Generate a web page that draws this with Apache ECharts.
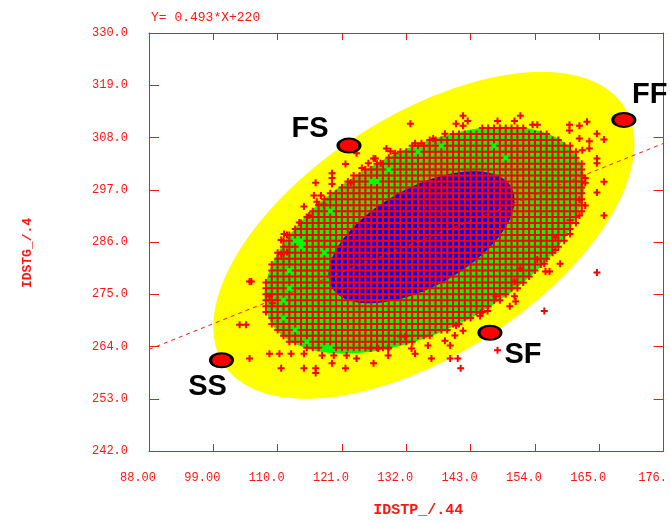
<!DOCTYPE html>
<html>
<head>
<meta charset="utf-8">
<script src="https://cdn.jsdelivr.net/npm/echarts@6/dist/echarts.min.js"></script>
<style>
  html, body { margin: 0; padding: 0; background: #fff; }
  #chart { width: 670px; height: 523px; }
</style>
</head>
<body>
<div id="chart"></div>
<script>
// Regression of IDSTG_/.4 on IDSTP_/.44
const fitSlope = 0.493;
const fitIntercept = 220;

// Axis ticks
const xTickLabels = ['88.00', '99.00', '110.0', '121.0', '132.0', '143.0', '154.0', '165.0', '176.'];
const yTickLabels = ['242.0', '253.0', '264.0', '275.0', '286.0', '297.0', '308.0', '319.0', '330.0'];

// Density bands (outer, middle, inner): centre, spread along each axis, correlation
const bandCenterX = [135.0, 135.1, 134.6];
const bandCenterY = [287.4, 286.4, 287.0];
const bandSpreadX = [36.0, 27.35, 15.9];
const bandSpreadY = [34.4, 23.9, 13.9];
const bandCorr = [0.56, 0.50, 0.56];

// Dense core of observations: each row is [y, [xFrom, xTo], ...] on a 1-unit x step
const coreRows = [
  [263.75, [115, 117], [120, 129]],
  [265.00, [112, 114], [116, 133]],
  [266.25, [111, 136]],
  [267.50, [110, 112], [114, 139]],
  [268.75, [109, 141]],
  [270.00, [109, 110], [112, 143]],
  [271.25, [108, 145]],
  [272.50, [108, 146]],
  [273.75, [108, 110], [112, 148]],
  [275.00, [108, 149]],
  [276.25, [108, 111], [113, 151]],
  [277.50, [108, 152]],
  [278.75, [109, 153]],
  [280.00, [109, 111], [113, 154]],
  [281.25, [109, 155]],
  [282.50, [110, 156]],
  [283.75, [110, 117], [119, 157]],
  [285.00, [111, 113], [115, 158]],
  [286.25, [111, 112], [115, 159]],
  [287.50, [112, 159]],
  [288.75, [113, 160]],
  [290.00, [114, 161]],
  [291.25, [115, 161]],
  [292.50, [116, 118], [120, 162]],
  [293.75, [117, 162]],
  [295.00, [118, 162]],
  [296.25, [119, 162]],
  [297.50, [121, 162]],
  [298.75, [122, 125], [128, 162]],
  [300.00, [123, 162]],
  [301.25, [125, 128], [130, 162]],
  [302.50, [127, 162]],
  [303.75, [129, 148], [150, 161]],
  [305.00, [131, 133], [135, 161]],
  [306.25, [133, 137], [139, 146], [148, 160]],
  [307.50, [136, 158]],
  [308.75, [140, 156]],
  [310.00, [145, 152]]
];

// Scattered observations outside the dense core
const sparseX = [
  123.5, 121.6, 119.3, 119.3, 119.3, 116.5, 117.4, 116.2, 116.7, 117.9, 114.5, 115.4, 113.7, 111.1, 110.6, 111.6, 110.6, 111.6, 105.5, 108.6, 109.1,
  122.5, 124.4, 125.5, 126.7, 127.6, 129.3,
  132.7, 133.5, 134.6, 136.6, 138.6, 140.5, 141.7, 142.5, 147.6, 150.5, 151.5, 153.6, 154.4, 141.7, 128.6, 130.1, 126.4,
  159.9, 159.9, 161.6, 162.9, 164.6, 165.8, 163.3, 161.6, 162.1, 163.3, 164.6, 164.6, 162.6, 162.6, 165.8, 164.6, 161.6, 162.6, 161.6, 165.8, 160.0, 160.0, 157.5, 157.5, 154.4, 155.6, 158.3, 156.5, 164.6, 151.5,
  147.3, 149.7, 150.5, 150.7, 150.5, 155.8, 155.6, 145.9, 144.7, 144.6, 141.7, 140.5, 140.3, 138.6, 139.5, 139.5, 140.8, 141.3, 147.6, 136.3, 135.7, 133.5, 132.9, 131.0, 131.8, 128.9, 127.2, 125.9, 128.9, 126.4, 123.5, 121.6, 121.8, 119.6, 119.3, 117.6, 116.5, 116.5, 114.5, 110.6, 114.5, 112.3, 110.3, 108.6, 105.2, 103.5, 104.6, 105.2
];
const sparseY = [
  304.7, 302.4, 300.5, 299.5, 298.2, 298.5, 295.8, 295.8, 294.5, 293.9, 293.5, 291.6, 290.1, 287.7, 286.4, 287.5, 283.5, 283.9, 277.7, 274.6, 273.1,
  298.5, 301.6, 302.6, 303.6, 302.6, 305.1,
  310.9, 306.8, 306.8, 307.8, 308.8, 310.9, 312.6, 311.5, 311.5, 311.5, 312.6, 310.7, 310.7, 310.5, 305.7, 304.7, 303.6,
  310.7, 309.5, 310.5, 311.3, 308.8, 307.6, 307.2, 307.8, 305.3, 305.7, 303.6, 302.6, 299.5, 298.5, 298.7, 296.4, 294.9, 293.7, 291.6, 291.6, 290.6, 287.7, 287.0, 284.3, 282.3, 281.4, 281.4, 279.8, 279.6, 280.4,
  274.6, 272.5, 274.6, 273.5, 277.7, 279.8, 271.5, 271.5, 271.1, 270.4, 267.3, 268.4, 266.3, 265.2, 264.2, 261.5, 261.5, 259.4, 263.2, 261.5, 264.2, 262.5, 263.6, 266.1, 266.1, 263.6, 263.6, 263.6, 262.1, 260.5, 261.5, 259.4, 262.1, 262.1, 260.5, 262.1, 259.4, 258.4, 259.4, 259.4, 262.5, 262.5, 262.5, 262.5, 261.5, 268.6, 268.6, 277.7
];

// Labelled corner cases
const cornerNames = ['FS', 'FF', 'SS', 'SF'];
const cornerX = [122.2, 169.2, 100.4, 146.3];
const cornerY = [306.3, 311.7, 261.1, 266.9];

const xMin = 88, xMax = 176, xStep = 11;
const yMin = 242, yMax = 330, yStep = 11;

const RED = '#ff1414';
const bandColors = ['#ffff00', '#00ff00', '#0000ff'];
const monoFont = "'Liberation Mono', 'DejaVu Sans Mono', monospace";

// expand core rows into individual observations
const obs = [];
coreRows.forEach(row => {
  const y = row[0];
  for (let r = 1; r < row.length; r++) {
    for (let x = row[r][0]; x <= row[r][1]; x++) obs.push([x, y]);
  }
});
sparseX.forEach((x, i) => obs.push([x, sparseY[i]]));

const bands = bandCenterX.map((cx, i) => [cx, bandCenterY[i], bandSpreadX[i], bandSpreadY[i], bandCorr[i]]);
const corners = cornerNames.map((n, i) => ({ name: n, value: [cornerX[i], cornerY[i]] }));
const fitLine = [[xMin, fitSlope * xMin + fitIntercept], [xMax, fitSlope * xMax + fitIntercept]];

const cornerLabelOffset = { FS: [-39, -17], FF: [26, -25], SS: [-14, 27], SF: [33, 22] };

const chart = echarts.init(document.getElementById('chart'));
chart.setOption({
  animation: false,
  backgroundColor: '#ffffff',
  title: {
    text: 'Y= ' + fitSlope + '*X+' + fitIntercept,
    left: 146, top: 6,
    textStyle: { color: RED, fontFamily: monoFont, fontSize: 13, fontWeight: 'normal' }
  },
  grid: { left: 149, right: 3, top: 33, bottom: 65 },
  xAxis: [
    {
      type: 'value', position: 'bottom', min: xMin, max: xMax, interval: xStep,
      name: 'IDSTP_/.44', nameLocation: 'middle', nameGap: 52,
      nameTextStyle: { color: RED, fontFamily: monoFont, fontSize: 15, fontWeight: 'bold', padding: [0, 0, 0, 24] },
      axisLine: { lineStyle: { color: RED, width: 1 } },
      axisTick: { inside: true, length: 7, lineStyle: { color: RED } },
      axisLabel: {
        margin: 21, color: RED, fontFamily: monoFont, fontSize: 12, padding: [0, 22, 0, 0],
        formatter: v => xTickLabels[Math.round((v - xMin) / xStep)]
      },
      splitLine: { show: false }
    },
    {
      type: 'value', position: 'top', min: xMin, max: xMax, interval: xStep,
      axisLine: { lineStyle: { color: RED, width: 1 } },
      axisTick: { inside: true, length: 7, lineStyle: { color: RED } },
      axisLabel: { show: false },
      splitLine: { show: false }
    }
  ],
  yAxis: [
    {
      type: 'value', position: 'left', min: yMin, max: yMax, interval: yStep,
      name: 'IDSTG_/.4', nameLocation: 'middle', nameGap: 115,
      nameTextStyle: { color: RED, fontFamily: monoFont, fontSize: 13, fontWeight: 'bold', padding: [0, 22, 0, 0] },
      axisLine: { show: true, lineStyle: { color: RED, width: 1 } },
      axisTick: { show: true, inside: true, length: 10, lineStyle: { color: RED } },
      axisLabel: {
        margin: 21, color: RED, fontFamily: monoFont, fontSize: 12, padding: [0, 0, 8, 0],
        formatter: v => yTickLabels[Math.round((v - yMin) / yStep)]
      },
      splitLine: { show: false }
    },
    {
      type: 'value', position: 'right', min: yMin, max: yMax, interval: yStep,
      axisLine: { show: true, lineStyle: { color: RED, width: 1 } },
      axisTick: { show: true, inside: true, length: 10, lineStyle: { color: RED } },
      axisLabel: { show: false },
      splitLine: { show: false }
    }
  ],
  series: [
    {
      // nested density ellipses
      type: 'custom',
      z: 1,
      silent: true,
      data: bands,
      renderItem: (params, api) => {
        const cx = api.value(0), cy = api.value(1), sx = api.value(2), sy = api.value(3), r = api.value(4);
        const q = Math.sqrt(1 - r * r);
        const pts = [];
        const n = 180;
        for (let i = 0; i < n; i++) {
          const t = (2 * Math.PI * i) / n;
          const c = Math.cos(t), s = Math.sin(t);
          pts.push(api.coord([cx + sx * c, cy + sy * (r * c + q * s)]));
        }
        return { type: 'polygon', shape: { points: pts }, style: { fill: bandColors[params.dataIndex], stroke: null } };
      }
    },
    {
      type: 'scatter',
      z: 2,
      silent: true,
      data: obs,
      symbol: 'path://M2.5,0H4.5V7H2.5Z M0,2.5H7V4.5H0Z',
      symbolSize: 7,
      itemStyle: { color: '#ff0000', opacity: 1 }
    },
    {
      type: 'line',
      z: 3,
      silent: true,
      data: fitLine,
      symbol: 'none',
      lineStyle: { color: RED, width: 1, type: [4, 4] }
    },
    {
      type: 'scatter',
      z: 4,
      silent: true,
      data: corners,
      symbol: 'circle',
      symbolSize: [22, 14],
      itemStyle: { color: '#ff0000', opacity: 1, borderColor: '#000000', borderWidth: 2.5 },
      label: {
        show: true,
        position: 'inside',
        formatter: p => p.name,
        color: '#000000',
        fontFamily: "'Liberation Sans', Arial, sans-serif",
        fontWeight: 'bold',
        fontSize: 29
      },
      labelLayout: p => {
        const o = cornerLabelOffset[cornerNames[p.dataIndex]];
        return { dx: o[0], dy: o[1] };
      }
    }
  ]
});
</script>
</body>
</html>
